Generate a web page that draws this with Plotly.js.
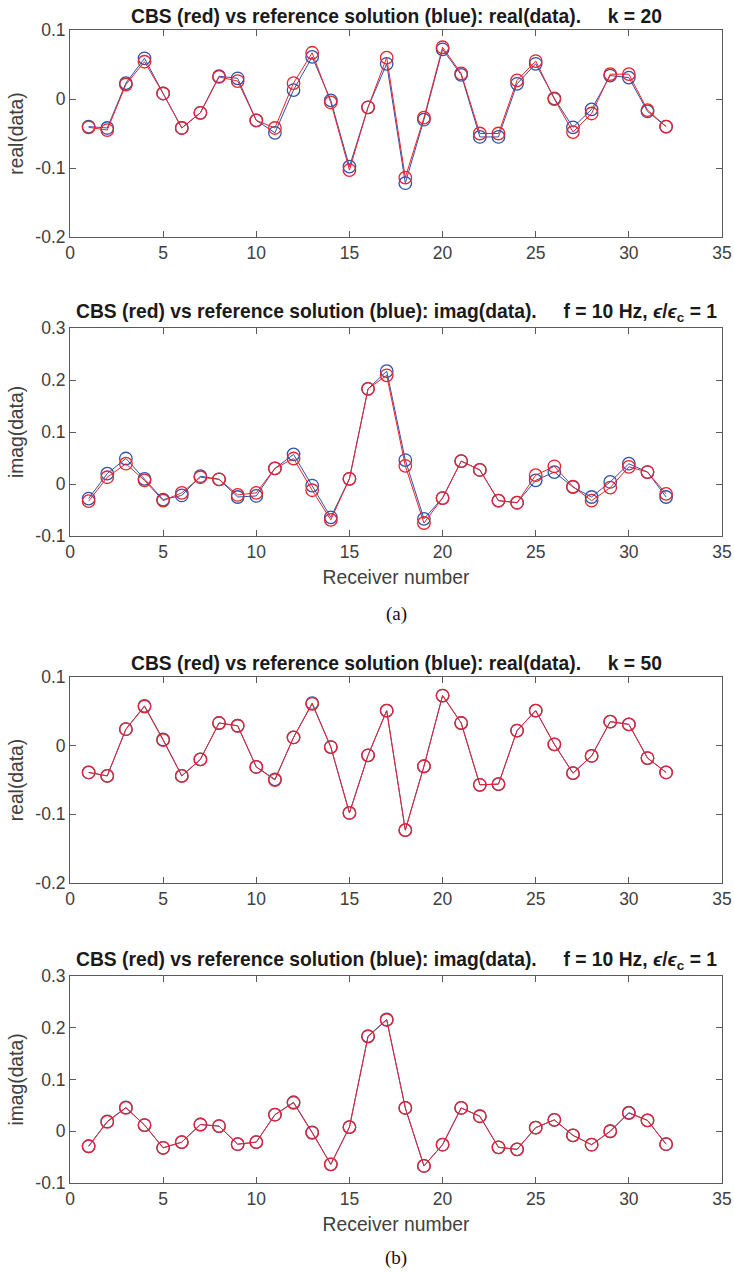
<!DOCTYPE html>
<html><head><meta charset="utf-8">
<script src="https://cdn.plot.ly/plotly-3.0.1.min.js"></script>
<style>html,body{margin:0;padding:0;background:#fff}#chart{width:734px;height:1273px}</style>
</head><body><div id="chart"></div>
<script>
const receivers = [1,2,3,4,5,6,7,8,9,10,11,12,13,14,15,16,17,18,19,20,21,22,23,24,25,26,27,28,29,30,31,32];

// (a) k = 20
const realRefK20 = [-0.040,-0.042,0.023,0.059,0.008,-0.042,-0.020,0.033,0.030,-0.031,-0.049,0.013,0.061,-0.002,-0.098,-0.012,0.051,-0.122,-0.030,0.072,0.035,-0.055,-0.055,0.022,0.051,0.001,-0.041,-0.015,0.034,0.031,-0.018,-0.040];
const realCbsK20 = [-0.041,-0.045,0.021,0.054,0.008,-0.042,-0.020,0.032,0.026,-0.031,-0.042,0.023,0.067,-0.005,-0.103,-0.012,0.060,-0.114,-0.027,0.075,0.037,-0.050,-0.050,0.027,0.055,0.000,-0.048,-0.021,0.036,0.036,-0.016,-0.040];
const imagRefK20 = [-0.028,0.020,0.049,0.010,-0.030,-0.022,0.015,0.009,-0.025,-0.023,0.030,0.057,-0.003,-0.064,0.010,0.183,0.217,0.046,-0.067,-0.027,0.044,0.027,-0.032,-0.036,0.007,0.023,-0.006,-0.025,0.004,0.039,0.023,-0.025];
const imagCbsK20 = [-0.033,0.013,0.039,0.007,-0.032,-0.017,0.013,0.009,-0.021,-0.017,0.030,0.049,-0.012,-0.069,0.010,0.183,0.209,0.035,-0.075,-0.027,0.044,0.027,-0.032,-0.036,0.017,0.034,-0.005,-0.032,-0.007,0.033,0.023,-0.019];

// (b) k = 50
const realRefK50 = [-0.039,-0.044,0.024,0.058,0.009,-0.044,-0.020,0.033,0.029,-0.031,-0.049,0.012,0.062,-0.002,-0.098,-0.014,0.051,-0.123,-0.030,0.073,0.033,-0.057,-0.056,0.022,0.051,0.002,-0.040,-0.015,0.035,0.031,-0.018,-0.039];
const realCbsK50 = [-0.039,-0.044,0.024,0.057,0.008,-0.044,-0.020,0.033,0.029,-0.031,-0.050,0.012,0.061,-0.002,-0.098,-0.014,0.051,-0.123,-0.030,0.073,0.033,-0.057,-0.056,0.022,0.051,0.002,-0.040,-0.015,0.035,0.031,-0.018,-0.039];
const imagRefK50 = [-0.029,0.019,0.046,0.012,-0.032,-0.021,0.013,0.010,-0.025,-0.021,0.032,0.056,-0.002,-0.064,0.008,0.184,0.216,0.045,-0.067,-0.026,0.045,0.029,-0.031,-0.035,0.007,0.022,-0.008,-0.026,0.000,0.036,0.021,-0.025];
const imagCbsK50 = [-0.029,0.018,0.045,0.012,-0.032,-0.021,0.013,0.010,-0.025,-0.021,0.032,0.055,-0.003,-0.064,0.008,0.183,0.215,0.045,-0.067,-0.026,0.045,0.029,-0.031,-0.035,0.007,0.022,-0.008,-0.026,0.000,0.035,0.021,-0.025];

const xTicks = [0,5,10,15,20,25,30,35];
const realTickVals = [-0.2,-0.1,0,0.1];
const realTickText = ['-0.2','-0.1','0','0.1'];
const imagTickVals = [-0.1,0,0.1,0.2,0.3];
const imagTickText = ['-0.1','0','0.1','0.2','0.3'];

const panelTitles = [
  'CBS (red) vs reference solution (blue): real(data).\u00a0\u00a0\u00a0\u00a0\u00a0k = 20',
  'CBS (red) vs reference solution (blue): imag(data).\u00a0\u00a0\u00a0\u00a0\u00a0f = 10 Hz, <i>\u03f5</i>/<i>\u03f5</i><sub>c</sub> = 1',
  'CBS (red) vs reference solution (blue): real(data).\u00a0\u00a0\u00a0\u00a0\u00a0k = 50',
  'CBS (red) vs reference solution (blue): imag(data).\u00a0\u00a0\u00a0\u00a0\u00a0f = 10 Hz, <i>\u03f5</i>/<i>\u03f5</i><sub>c</sub> = 1'
];
const yTitles = ['real(data)','imag(data)','real(data)','imag(data)'];
const captions = ['(a)','(b)'];

const H = 1273;
const BLUE = '#2f52a8', RED = '#e8232e';
const FONT = 'Liberation Sans, Arial, sans-serif';
const panelPx = [[30,237],[328,536],[677,883],[976,1183]];
const seriesRef = [realRefK20, imagRefK20, realRefK50, imagRefK50];
const seriesCbs = [realCbsK20, imagCbsK20, realCbsK50, imagCbsK50];

const traces = [];
const layout = {
  width: 734, height: 1273,
  margin: {l: 70, r: 12, t: 0, b: 0},
  paper_bgcolor: '#fff', plot_bgcolor: '#fff',
  showlegend: false,
  font: {family: FONT, color: '#404040'},
  annotations: []
};

for (let i = 0; i < 4; i++) {
  const n = i === 0 ? '' : String(i + 1);
  const xa = 'x' + n, ya = 'y' + n;
  const isReal = (i % 2 === 0);
  traces.push({x: receivers, y: seriesRef[i], xaxis: xa, yaxis: ya, type: 'scatter', mode: 'lines+markers',
    line: {color: BLUE, width: 1}, marker: {symbol: 'circle-open', size: 12.5, color: BLUE, line: {width: 1.3}}});
  traces.push({x: receivers, y: seriesCbs[i], xaxis: xa, yaxis: ya, type: 'scatter', mode: 'lines+markers',
    line: {color: RED, width: 1}, marker: {symbol: 'circle-open', size: 12.5, color: RED, line: {width: 1.3}}});
  const dom = [1 - panelPx[i][1] / H, 1 - panelPx[i][0] / H];
  const axCommon = {showline: true, mirror: 'ticks', linecolor: '#5a5a5a', linewidth: 1, ticks: 'inside',
    ticklen: 6, tickcolor: '#5a5a5a', tickwidth: 1, showgrid: false, zeroline: false,
    tickfont: {size: 17.5, color: '#404040', family: FONT}};
  layout['xaxis' + n] = Object.assign({}, axCommon, {domain: [0, 1], anchor: ya, range: [0, 35],
    tickmode: 'array', tickvals: xTicks, ticktext: xTicks.map(String)});
  if (i % 2 === 1) {
    layout['xaxis' + n].title = {text: 'Receiver number', font: {size: 19.3, color: '#404040', family: FONT}, standoff: 9};
  }
  layout['yaxis' + n] = Object.assign({}, axCommon, {domain: dom, anchor: xa,
    range: isReal ? [-0.2, 0.1] : [-0.1, 0.3], tickmode: 'array',
    tickvals: isReal ? realTickVals : imagTickVals, ticktext: isReal ? realTickText : imagTickText,
    title: {text: yTitles[i], font: {size: 19.3, color: '#404040', family: FONT}, standoff: 6}});
  layout.annotations.push({text: '<b>' + panelTitles[i] + '</b>', xref: 'x' + n + ' domain', yref: 'paper',
    x: 0.5, y: dom[1], xanchor: 'center', yanchor: 'bottom', yshift: 1, showarrow: false,
    font: {size: 19.3, color: '#1a1a1a', family: FONT}});
}
layout.annotations.push({text: captions[0], xref: 'x domain', yref: 'paper', x: 0.5, y: 1 - 614 / H,
  xanchor: 'center', yanchor: 'middle', showarrow: false, font: {size: 19, color: '#111', family: 'Liberation Serif, serif'}});
layout.annotations.push({text: captions[1], xref: 'x domain', yref: 'paper', x: 0.5, y: 1 - 1258 / H,
  xanchor: 'center', yanchor: 'middle', showarrow: false, font: {size: 19, color: '#111', family: 'Liberation Serif, serif'}});

Plotly.newPlot('chart', traces, layout, {displayModeBar: false, staticPlot: true});
</script></body></html>
